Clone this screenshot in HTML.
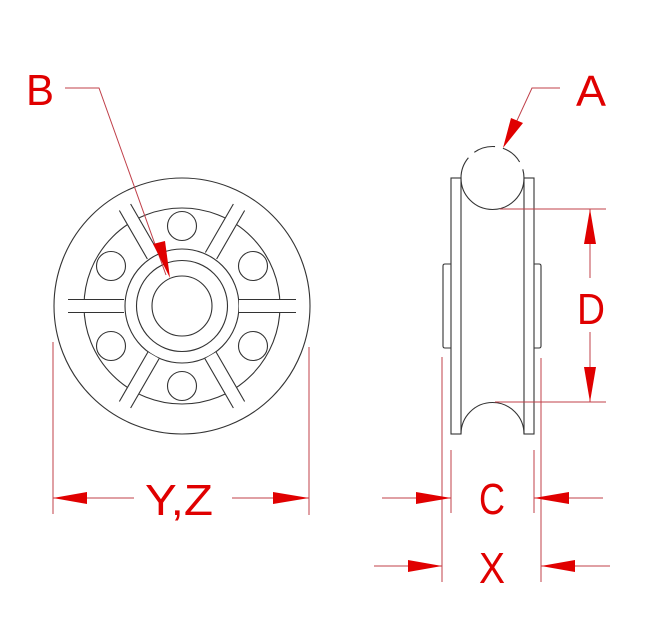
<!DOCTYPE html>
<html><head><style>html,body{margin:0;padding:0;background:#fff}svg{display:block}</style></head><body>
<svg width="650" height="643" viewBox="0 0 650 643" xmlns="http://www.w3.org/2000/svg">
<rect width="650" height="643" fill="#fff"/>
<g fill="none" stroke="#333" stroke-width="1.1">
<circle cx="182" cy="306" r="128"/>
<circle cx="182" cy="306" r="98"/>
<circle cx="182" cy="306" r="57"/>
<circle cx="182" cy="306" r="45.5"/>
<circle cx="182" cy="306" r="30"/>
<g id="holes">
<circle cx="182" cy="226" r="14.5"/><circle cx="182" cy="386" r="14.5"/>
<circle cx="111" cy="266" r="14.5"/><circle cx="253" cy="266" r="14.5"/>
<circle cx="111" cy="346" r="14.5"/><circle cx="253" cy="346" r="14.5"/>
</g>
</g>
<g stroke="#333" stroke-width="1.1">
<g transform="rotate(0 182 306)"><rect x="239" y="299.5" width="57" height="13" fill="#fff" stroke="none"/><line x1="239" y1="299.5" x2="296" y2="299.5"/><line x1="239" y1="312.5" x2="296" y2="312.5"/><rect x="68" y="299.5" width="56" height="13" fill="#fff" stroke="none"/><line x1="68" y1="299.5" x2="124" y2="299.5"/><line x1="68" y1="312.5" x2="124" y2="312.5"/></g>
<g transform="rotate(60 182 306)"><rect x="239" y="299.5" width="57" height="13" fill="#fff" stroke="none"/><line x1="239" y1="299.5" x2="296" y2="299.5"/><line x1="239" y1="312.5" x2="296" y2="312.5"/><rect x="68" y="299.5" width="56" height="13" fill="#fff" stroke="none"/><line x1="68" y1="299.5" x2="124" y2="299.5"/><line x1="68" y1="312.5" x2="124" y2="312.5"/></g>
<g transform="rotate(120 182 306)"><rect x="239" y="299.5" width="57" height="13" fill="#fff" stroke="none"/><line x1="239" y1="299.5" x2="296" y2="299.5"/><line x1="239" y1="312.5" x2="296" y2="312.5"/><rect x="68" y="299.5" width="56" height="13" fill="#fff" stroke="none"/><line x1="68" y1="299.5" x2="124" y2="299.5"/><line x1="68" y1="312.5" x2="124" y2="312.5"/></g>
</g>
<!-- side view -->
<g fill="none" stroke="#333" stroke-width="1.1">
<rect x="451" y="178" width="10" height="256"/>
<rect x="524" y="178" width="10" height="256"/>
<path d="M461 178 A31.5 31.5 0 0 0 524 178"/>
<path d="M461 434 A31.5 31.5 0 0 1 524 434"/>
<path d="M461 178 A31.5 31.5 0 0 1 524 178" stroke-dasharray="22 8"/>
<path d="M451 264 L445 264 Q443 264 443 266 L443 346 Q443 348 445 348 L451 348"/>
<path d="M534 264 L539 264 Q541 264 541 266 L541 346 Q541 348 539 348 L534 348"/>
</g>
<g stroke="#c0404a" stroke-width="1" fill="none">
<line x1="53" y1="342" x2="53" y2="514"/><line x1="309" y1="347" x2="309" y2="515"/>
<line x1="53" y1="498" x2="134" y2="498"/><line x1="232" y1="498" x2="309" y2="498"/>
<polyline points="65,88 99,88 166,275"/>
<polyline points="560,88 532,88 508,140"/>
<line x1="500" y1="209" x2="606" y2="209"/><line x1="495" y1="402" x2="606" y2="402"/>
<line x1="590" y1="209" x2="590" y2="278"/><line x1="590" y1="332" x2="590" y2="402"/>
<line x1="451" y1="450" x2="451" y2="513"/><line x1="534" y1="450" x2="534" y2="513"/>
<line x1="442" y1="357" x2="442" y2="582"/><line x1="541" y1="358" x2="541" y2="582"/>
<line x1="382" y1="498" x2="451" y2="498"/><line x1="534" y1="498" x2="603" y2="498"/>
<line x1="374" y1="566" x2="442" y2="566"/><line x1="541" y1="566" x2="610" y2="566"/>
</g>
<g fill="#e00000">
<polygon points="53,498 87,492 87,504"/><polygon points="309,498 273,492 273,504"/>
<polygon points="170,278 153,244 165,241"/>
<polygon points="503,148 511,118 523,123"/>
<polygon points="590,209 584,244 596,244"/><polygon points="590,402 584,367 596,367"/>
<polygon points="451,498 416,492 416,504"/><polygon points="534,498 569,492 569,504"/>
<polygon points="442,566 408,560 408,572"/><polygon points="541,566 575,560 575,572"/>
<g font-family="Liberation Sans, sans-serif" font-size="44">
<text x="26" y="105" textLength="28" lengthAdjust="spacingAndGlyphs">B</text>
<text x="576" y="106" textLength="30" lengthAdjust="spacingAndGlyphs">A</text>
<text x="145" y="515" textLength="68" lengthAdjust="spacingAndGlyphs">Y,Z</text>
<text x="577" y="324" textLength="28" lengthAdjust="spacingAndGlyphs">D</text>
<text x="479" y="514" textLength="26" lengthAdjust="spacingAndGlyphs">C</text>
<text x="479" y="583" textLength="26" lengthAdjust="spacingAndGlyphs">X</text>
</g>
</g>
</svg>
</body></html>
